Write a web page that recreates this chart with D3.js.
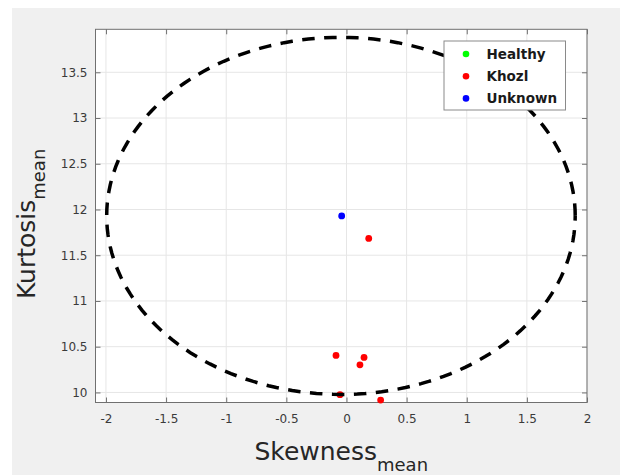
<!DOCTYPE html>
<html>
<head>
<meta charset="utf-8">
<script src="https://cdn.jsdelivr.net/npm/d3@7/dist/d3.min.js"></script>
<style>
  html, body { margin: 0; padding: 0; background: #ffffff; }
  svg { display: block; }
  text { font-family: "DejaVu Sans", sans-serif; }
</style>
</head>
<body>
<svg id="chart" width="620" height="475"></svg>
<script>
// ---- data ----
const categories = ["Healthy", "Khozl", "Unknown"];
const categoryColors = ["#00ff00", "#ff0000", "#0000ff"];
const healthyX = [];
const healthyY = [];
const khozlX = [0.185, -0.087, 0.146, 0.112, -0.054, 0.284];
const khozlY = [11.684, 10.405, 10.383, 10.302, 9.976, 9.916];
const unknownX = [-0.040];
const unknownY = [11.930];
const boundaryCenter = [-0.046, 11.93];
const boundaryRadius = [1.948, 1.952];
const xTicks = [-2, -1.5, -1, -0.5, 0, 0.5, 1, 1.5, 2];
const yTicks = [10, 10.5, 11, 11.5, 12, 12.5, 13, 13.5];
const xDomain = [-2.087, 2];
const yDomain = [9.89, 13.97];

// ---- layout ----
const svg = d3.select("#chart");
const L = 95.5, R = 587, T = 29.3, B = 402.5;

svg.append("rect").attr("x", 12).attr("y", 8).attr("width", 608).attr("height", 467).attr("fill", "#f0f0f0");
svg.append("rect").attr("x", L).attr("y", T).attr("width", R - L).attr("height", B - T).attr("fill", "#ffffff");

const x = d3.scaleLinear().domain(xDomain).range([L, R]);
const y = d3.scaleLinear().domain(yDomain).range([B, T]);

// grid
const grid = svg.append("g");
grid.selectAll("line.gx").data(xTicks).enter().append("line")
  .attr("x1", d => x(d)).attr("x2", d => x(d)).attr("y1", T).attr("y2", B)
  .attr("stroke", "#e6e6e6").attr("stroke-width", 1);
grid.selectAll("line.gy").data(yTicks).enter().append("line")
  .attr("y1", d => y(d)).attr("y2", d => y(d)).attr("x1", L).attr("x2", R)
  .attr("stroke", "#e6e6e6").attr("stroke-width", 1);

const fmt = d => String(d);
const axisColor = "#707070";

function styleAxis(g) {
  g.select(".domain").remove();
  g.selectAll(".tick line").attr("stroke", axisColor);
  g.selectAll(".tick text").attr("fill", "#3a3a3a").attr("font-size", "12px");
}

svg.append("g").attr("transform", `translate(0,${B})`)
  .call(d3.axisBottom(x).tickValues(xTicks).tickFormat(fmt).tickSize(-5).tickPadding(12))
  .call(styleAxis);
svg.append("g").attr("transform", `translate(0,${T})`)
  .call(d3.axisTop(x).tickValues(xTicks).tickFormat("").tickSize(-5))
  .call(styleAxis);
svg.append("g").attr("transform", `translate(${L},0)`)
  .call(d3.axisLeft(y).tickValues(yTicks).tickFormat(fmt).tickSize(-5).tickPadding(8))
  .call(styleAxis);
svg.append("g").attr("transform", `translate(${R},0)`)
  .call(d3.axisRight(y).tickValues(yTicks).tickFormat("").tickSize(-5))
  .call(styleAxis);

svg.append("rect").attr("x", L).attr("y", T).attr("width", R - L).attr("height", B - T)
  .attr("fill", "none").attr("stroke", axisColor).attr("stroke-width", 1);

// points
const series = [
  { xs: healthyX, ys: healthyY, color: categoryColors[0] },
  { xs: khozlX, ys: khozlY, color: categoryColors[1] },
  { xs: unknownX, ys: unknownY, color: categoryColors[2] }
];
series.forEach(s => {
  svg.append("g").selectAll("circle").data(s.xs.map((v, i) => [v, s.ys[i]])).enter()
    .append("circle").attr("cx", d => x(d[0])).attr("cy", d => y(d[1])).attr("r", 3.4)
    .attr("fill", s.color);
});

// boundary ellipse
const angles = d3.range(0, 361, 2).map(a => a * Math.PI / 180);
const line = d3.line().x(a => x(boundaryCenter[0] + boundaryRadius[0] * Math.cos(a)))
  .y(a => y(boundaryCenter[1] + boundaryRadius[1] * Math.sin(a)));
svg.append("path").attr("d", line(angles)).attr("fill", "none")
  .attr("stroke", "#000").attr("stroke-width", 3.5).attr("stroke-dasharray", "12.5,9.5");

// legend
const lg = svg.append("g");
lg.append("rect").attr("x", 444).attr("y", 41).attr("width", 121.5).attr("height", 69)
  .attr("fill", "#ffffff").attr("stroke", "#8a8a8a").attr("stroke-width", 1);
categories.forEach((c, i) => {
  const cy = 54 + i * 22.2;
  lg.append("circle").attr("cx", 466).attr("cy", cy).attr("r", 3.3).attr("fill", categoryColors[i]);
  lg.append("text").attr("x", 486.5).attr("y", cy + 5).attr("font-size", "13.5px")
    .attr("font-weight", "bold").attr("fill", "#1a1a1a").text(c);
});

// axis labels
const xl = svg.append("text").attr("x", (L + R) / 2).attr("y", 460).attr("text-anchor", "middle")
  .attr("fill", "#262626").attr("font-size", "25px");
xl.append("tspan").text("Skewness");
xl.append("tspan").attr("font-size", "18px").attr("dy", 11).text("mean");

const yl = svg.append("text").attr("transform", `translate(35,${(T + B) / 2 + 8}) rotate(-90)`)
  .attr("text-anchor", "middle").attr("fill", "#262626").attr("font-size", "25px");
yl.append("tspan").text("Kurtosis");
yl.append("tspan").attr("font-size", "18px").attr("dy", 10).text("mean");
</script>
</body>
</html>
